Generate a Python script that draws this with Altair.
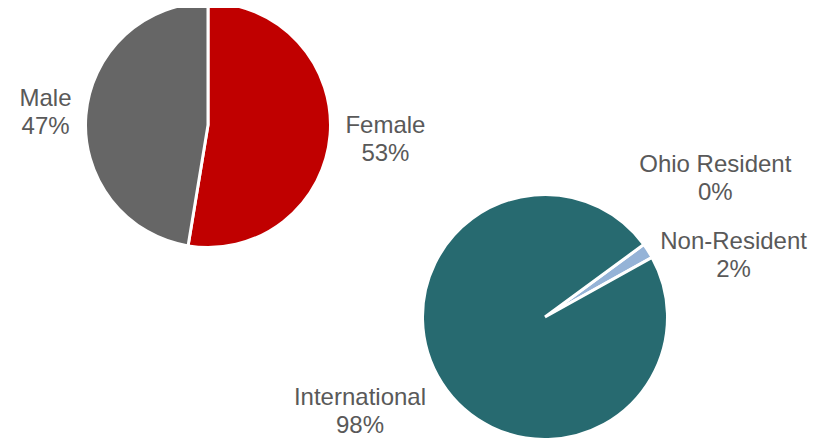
import math
import altair as alt
import pandas as pd

# ---- data ----
gender_cats = ["Female", "Male"]
gender_vals = [52.6, 47.4]
gender_pct = ["53%", "47%"]
gender_colors = ["#C00000", "#666666"]

res_cats = ["Ohio Resident", "Non-Resident", "International"]
res_vals = [0.0, 2.0, 98.0]
res_pct = ["0%", "2%", "98%"]
res_colors = ["#1F4E79", "#95B3D7", "#276A70"]

TXT = "#595959"
FONT = "Liberation Sans"


def make_df(cats, vals, pcts):
    return pd.DataFrame({
        "cat": cats,
        "val": vals,
        "label": [f"{c}\n{p}" for c, p in zip(cats, pcts)],
        "ord": list(range(len(cats))),
    })


def pie(df, cats, colors, cx, cy, start_deg, label_cfg):
    start = math.radians(start_deg)
    total = float(df["val"].sum())
    th_scale = alt.Scale(domain=[0, total], range=[start, start + 2 * math.pi])
    base = alt.Chart(df).transform_stack(
        stack="val", groupby=[], as_=["v0", "v1"],
        sort=[alt.SortField("ord", order="ascending")],
    ).transform_calculate(mid="(datum.v0 + datum.v1) / 2")
    arc = base.mark_arc(outerRadius=122.5, stroke="white", strokeWidth=3).encode(
        theta=alt.Theta("v0:Q", scale=th_scale),
        theta2="v1:Q",
        color=alt.Color("cat:N", scale=alt.Scale(domain=cats, range=colors), legend=None),
        x=alt.value(cx),
        y=alt.value(cy),
    )
    layers = [arc]
    for cat, (r, dx, dy) in label_cfg.items():
        t = base.transform_filter(alt.datum.cat == cat).mark_text(
            radius=r, dx=dx, dy=dy, lineBreak="\n", fontSize=24, lineHeight=28,
            font=FONT, color=TXT, align="center", baseline="middle",
        ).encode(
            theta=alt.Theta("mid:Q", scale=th_scale),
            text="label:N",
            x=alt.value(cx),
            y=alt.value(cy),
        )
        layers.append(t)
    return alt.layer(*layers)


pie1 = pie(make_df(gender_cats, gender_vals, gender_pct), gender_cats, gender_colors,
           200, 117, 0,
           {"Female": (178, 0, -14), "Male": (165, 2, -13)})
pie2 = pie(make_df(res_cats, res_vals, res_pct), res_cats, res_colors,
           537, 309, 53.7,
           {"Ohio Resident": (220, -7, -22), "Non-Resident": (198, 22, 32),
            "International": (208, -10, -31)})

chart = alt.layer(pie1, pie2).resolve_scale(
    theta="independent", color="independent"
).properties(
    width=810, height=430, padding=0, autosize="none", background="white"
).configure_view(stroke=None)

chart.save("out.html", embed_options={"renderer": "svg", "actions": False})
